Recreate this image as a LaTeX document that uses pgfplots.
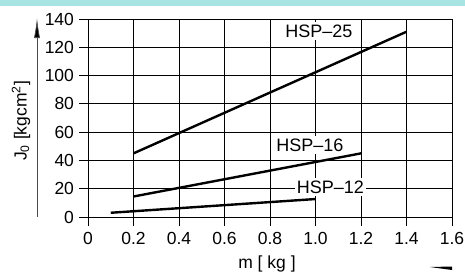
\documentclass[border=0pt]{standalone}
\usepackage{pgfplots}
\pgfplotsset{compat=1.18}
\usepackage{fontspec}
\setmainfont{Liberation Sans}
\usetikzlibrary{arrows.meta}
\definecolor{band}{RGB}{168,228,228}
\begin{document}
\begin{tikzpicture}[x=1pt,y=1pt]
\path[use as bounding box] (0,0) rectangle (465,277);
\fill[band] (0,271) rectangle (465,277);
\begin{axis}[
  at={(88pt,60pt)}, anchor=origin,
  scale only axis, width=364pt, height=198pt,
  xmin=0, xmax=1.6, ymin=0, ymax=140,
  xtick={0,0.2,...,1.6}, ytick={0,20,...,140},
  xticklabels={0,0.2,0.4,0.6,0.8,1.0,1.2,1.4,1.6},
  grid=major,
  grid style={black, line width=0.8pt},
  axis line style={black, line width=0.8pt},
  tick style={black, line width=0.8pt},
  tick align=outside, major tick length=9pt,
  xtick pos=bottom, ytick pos=left,
  /pgf/number format/assume math mode=true,
  ticklabel style={font=\fontsize{17.5}{19}\selectfont},
  xticklabel style={yshift=-3pt},
  yticklabel style={xshift=-1.5pt},
  clip=false,
]
\addplot[black, line width=2.4pt] coordinates {(0.2,45) (1.4,131)};
\addplot[black, line width=2.4pt] coordinates {(0.2,14.5) (1.2,45)};
\addplot[black, line width=2.4pt] coordinates {(0.1,3) (1.0,12.7)};
\node[fill=white, inner xsep=2pt, inner ysep=2.5pt, font=\fontsize{18}{20}\selectfont] at (axis cs:1.015,131.5) {HSP–25};
\node[fill=white, inner xsep=2pt, inner ysep=2.5pt, font=\fontsize{18}{20}\selectfont] at (axis cs:0.975,51) {HSP–16};
\node[fill=white, inner xsep=2pt, inner ysep=2.5pt, font=\fontsize{18}{20}\selectfont] at (axis cs:1.065,21) {HSP–12};
\end{axis}
\node[font=\fontsize{17.5}{19}\selectfont] at (267,13) {m [ kg ]};
\node[rotate=90, font=\fontsize{17.5}{19}\selectfont] at (21,156) {J\textsubscript{0} [kgcm\textsuperscript{2}]};
\draw[gray!60!black, line width=0.7pt, -{Latex[length=20pt,width=6pt,fill=black]}] (37,60) -- (37,259);
\fill (430,10) -- (452,10.5) -- (452,7) -- cycle;
\end{tikzpicture}
\end{document}
